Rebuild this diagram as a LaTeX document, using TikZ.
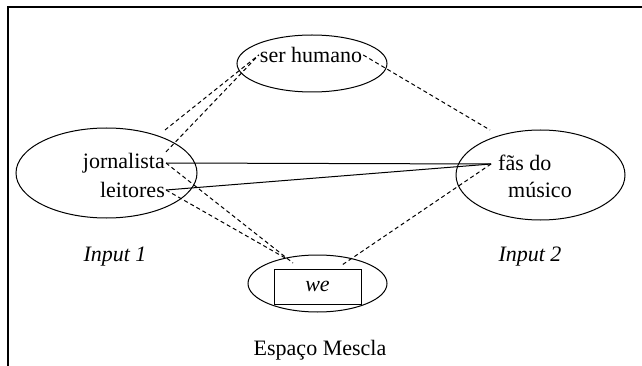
\documentclass[tikz,border=0pt]{standalone}
\usepackage{fontspec}
\setmainfont{Liberation Serif}
\usetikzlibrary{shapes.geometric}
\begin{document}
\begin{tikzpicture}[x=1pt,y=-1pt,
  every node/.style={font=\fontsize{22}{26}\selectfont,inner sep=1pt},
  space/.style={draw,ellipse,line width=1pt},
  dashline/.style={dashed,dash pattern=on 4pt off 3pt,line width=1pt}]
                \useasboundingbox (0,0) rectangle (642,366);
                \draw [line width=1.8pt] (642,7) -- (8,7) -- (8,366);
                \node [space,minimum width=150pt,minimum height=57pt] (top) at (312,63.5) {};
                \node [space,minimum width=181pt,minimum height=90pt] (inputa) at (106.5,173) {};
                \node [space,minimum width=169pt,minimum height=90pt] (inputb) at (540.5,175) {};
                \node [space,minimum width=139pt,minimum height=57pt] (blend) at (317.5,283.5) {};
                \node (serhumano) at (311,55) {ser humano};
                \node [anchor=east] (jornalista) at (166,163) {jornalista};
                \node [anchor=east] (leitores) at (166,190) {leitores};
                \node [anchor=west] (fas) at (497,163) {fãs do};
                \node [anchor=west] (musico) at (507,190) {músico};
                \node (inputum) at (115,257) {\itshape Input 1};
                \node (inputdois) at (530,257) {\itshape Input 2};
                \node [draw,line width=1pt,minimum width=87pt,minimum height=35pt] (we) at (317.5,286.5) {\itshape we};
                \node (mescla) at (320,350) {Espaço Mescla};
                \coordinate (ca) at (165,130);
                \coordinate (cb) at (490,130);
                \coordinate (fasin) at (491,164);
                \coordinate (wa) at (293,263);
                \coordinate (wb) at (287,259);
                \coordinate (wc) at (342,265);
                \draw [dashline] (ca) -- (serhumano.west);
                \draw [dashline] (jornalista.north east) -- (serhumano.west);
                \draw [dashline] (serhumano.east) -- (cb);
                \draw [line width=1pt] (jornalista.east) -- (fasin);
                \draw [line width=1pt] (leitores.east) -- (fasin);
                \draw [dashline] (jornalista.east) -- (wa);
                \draw [dashline] (leitores.east) -- (wb);
                \draw [dashline] (fasin) -- (wc);
            \end{tikzpicture}
\end{document}
